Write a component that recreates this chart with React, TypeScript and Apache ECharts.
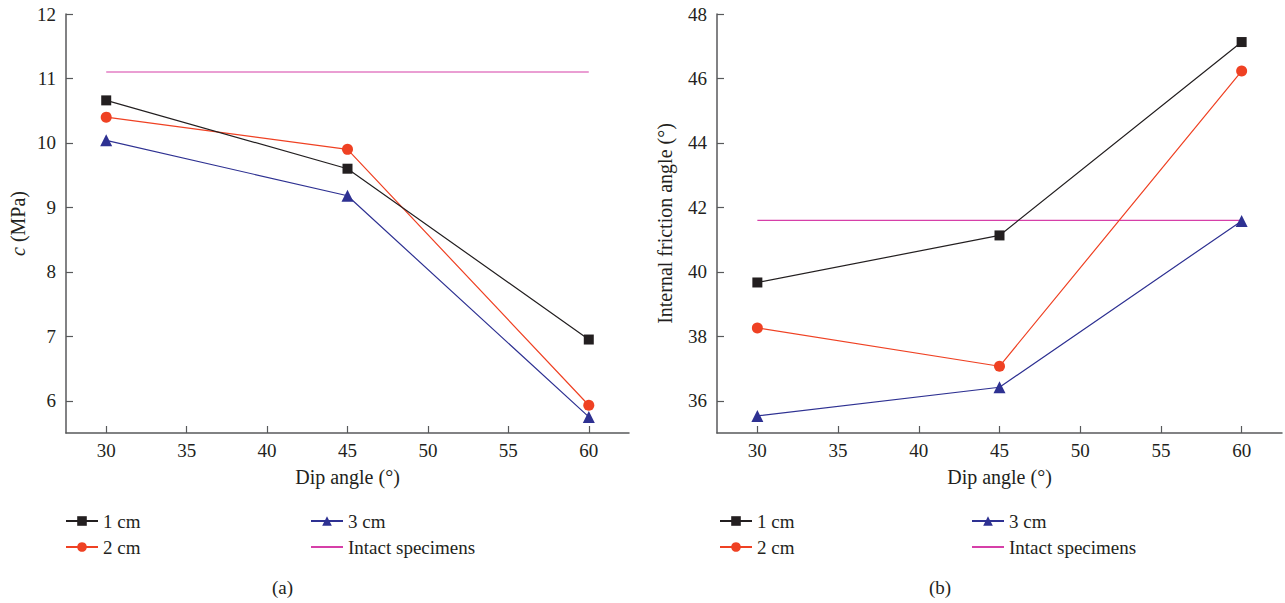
import React, { useEffect, useRef } from "react";
import * as echarts from "echarts";

const dipAngles = [30, 45, 60];
const cohesion1cm = [10.66, 9.6, 6.95];
const cohesion2cm = [10.4, 9.9, 5.93];
const cohesion3cm = [10.04, 9.18, 5.75];
const cohesionIntact = [11.1, 11.1];
const intactX = [30, 60];
const friction1cm = [39.67, 41.13, 47.13];
const friction2cm = [38.26, 37.07, 46.23];
const friction3cm = [35.53, 36.42, 41.58];
const frictionIntact = [41.6, 41.6];
const xTicks = [30, 35, 40, 45, 50, 55, 60];
const cTicks = [6, 7, 8, 9, 10, 11, 12];
const phiTicks = [36, 38, 40, 42, 44, 46, 48];
const seriesNames = ["1 cm", "2 cm", "3 cm", "Intact specimens"];

const FONT = "'Liberation Serif', serif";
const TXT = "#231f20";
const AX = "#58595b";
const COLORS = ["#231f20", "#ef4123", "#2e3192", "#d63fa8"];
const SYMBOLS = ["rect", "circle", "triangle", "none"];
const SIZES = [10, 11, 12, 0];
const FS = 19;
const NFS = 20;

function pairs(xs: number[], ys: number[]) {
  return xs.map((x, i) => [x, ys[i]]);
}

export default function App() {
  const ref = useRef<HTMLDivElement>(null);
  useEffect(() => {
    if (!ref.current) return;
    const chart = echarts.init(ref.current, null, { renderer: "svg" });

    const xAxisBase = (gridIndex: number) => ({
      type: "value",
      gridIndex,
      min: 27.5,
      max: 62.5,
      name: "Dip angle (°)",
      nameLocation: "middle",
      nameGap: 34,
      nameTextStyle: { fontFamily: FONT, fontSize: NFS, color: TXT },
      axisLine: { show: true, lineStyle: { color: AX, width: 1.5 } },
      axisTick: { show: true, inside: true, length: 7, lineStyle: { color: AX, width: 1.2 }, customValues: xTicks },
      axisLabel: { fontFamily: FONT, fontSize: FS, color: TXT, margin: 8, customValues: xTicks },
      splitLine: { show: false },
    });

    const yAxisBase = (gridIndex: number, min: number, max: number, ticks: number[], name: string, nameGap: number) => ({
      type: "value",
      gridIndex,
      min,
      max,
      name,
      nameLocation: "middle",
      nameGap,
      nameRotate: 90,
      nameTextStyle: {
        fontFamily: FONT,
        fontSize: NFS,
        color: TXT,
        rich: { i: { fontFamily: FONT, fontSize: NFS, color: TXT, fontStyle: "italic" } },
      },
      axisLine: { show: true, lineStyle: { color: AX, width: 1.5 } },
      axisTick: { show: true, inside: true, length: 7, lineStyle: { color: AX, width: 1.2 }, customValues: ticks },
      axisLabel: { fontFamily: FONT, fontSize: FS, color: TXT, margin: 10, customValues: ticks },
      splitLine: { show: false },
    });

    const mkSeries = (idx: number, axisIdx: number, data: number[][]) => ({
      type: "line",
      name: seriesNames[idx],
      xAxisIndex: axisIdx,
      yAxisIndex: axisIdx,
      data,
      symbol: SYMBOLS[idx],
      symbolSize: SIZES[idx],
      showSymbol: idx !== 3,
      lineStyle: { color: COLORS[idx], width: 1.2 },
      itemStyle: { color: COLORS[idx] },
      z: 3 - idx,
    });

    const legendText = { fontFamily: FONT, fontSize: 19, color: TXT, lineHeight: 20 };
    const legendItem = (name: string) =>
      name === seriesNames[3] ? { name, itemStyle: { opacity: 0 } } : { name };
    const mkLegend = (left: number, names: string[]) => ({
      orient: "vertical",
      left,
      top: 506,
      itemWidth: 32,
      itemHeight: 12,
      itemGap: 6,
      data: names.map(legendItem),
      textStyle: legendText,
      selectedMode: false,
    });

    chart.setOption({
      animation: false,
      backgroundColor: "#ffffff",
      grid: [
        { left: 66, top: 14, width: 563, height: 419 },
        { left: 717, top: 14, width: 565, height: 419 },
      ],
      xAxis: [xAxisBase(0), xAxisBase(1)],
      yAxis: [
        yAxisBase(0, 5.5, 12, cTicks, "{i|c} (MPa)", 38),
        yAxisBase(1, 35, 48, phiTicks, "Internal friction angle (°)", 42),
      ],
      legend: [
        mkLegend(60, [seriesNames[0], seriesNames[1]]),
        mkLegend(305, [seriesNames[2], seriesNames[3]]),
        mkLegend(714, [seriesNames[0], seriesNames[1]]),
        mkLegend(966, [seriesNames[2], seriesNames[3]]),
      ],
      graphic: [
        { type: "text", left: 272, top: 578, style: { text: "(a)", fontFamily: FONT, fontSize: FS, fill: TXT } },
        { type: "text", left: 929, top: 578, style: { text: "(b)", fontFamily: FONT, fontSize: FS, fill: TXT } },
      ],
      series: [
        mkSeries(0, 0, pairs(dipAngles, cohesion1cm)),
        mkSeries(1, 0, pairs(dipAngles, cohesion2cm)),
        mkSeries(2, 0, pairs(dipAngles, cohesion3cm)),
        mkSeries(3, 0, pairs(intactX, cohesionIntact)),
        mkSeries(0, 1, pairs(dipAngles, friction1cm)),
        mkSeries(1, 1, pairs(dipAngles, friction2cm)),
        mkSeries(2, 1, pairs(dipAngles, friction3cm)),
        mkSeries(3, 1, pairs(intactX, frictionIntact)),
      ],
    } as any);
    return () => chart.dispose();
  }, []);
  return (
    <div
      ref={ref}
      style={{ position: "fixed", left: 0, top: 0, width: 1285, height: 603, background: "#fff" }}
    />
  );
}
